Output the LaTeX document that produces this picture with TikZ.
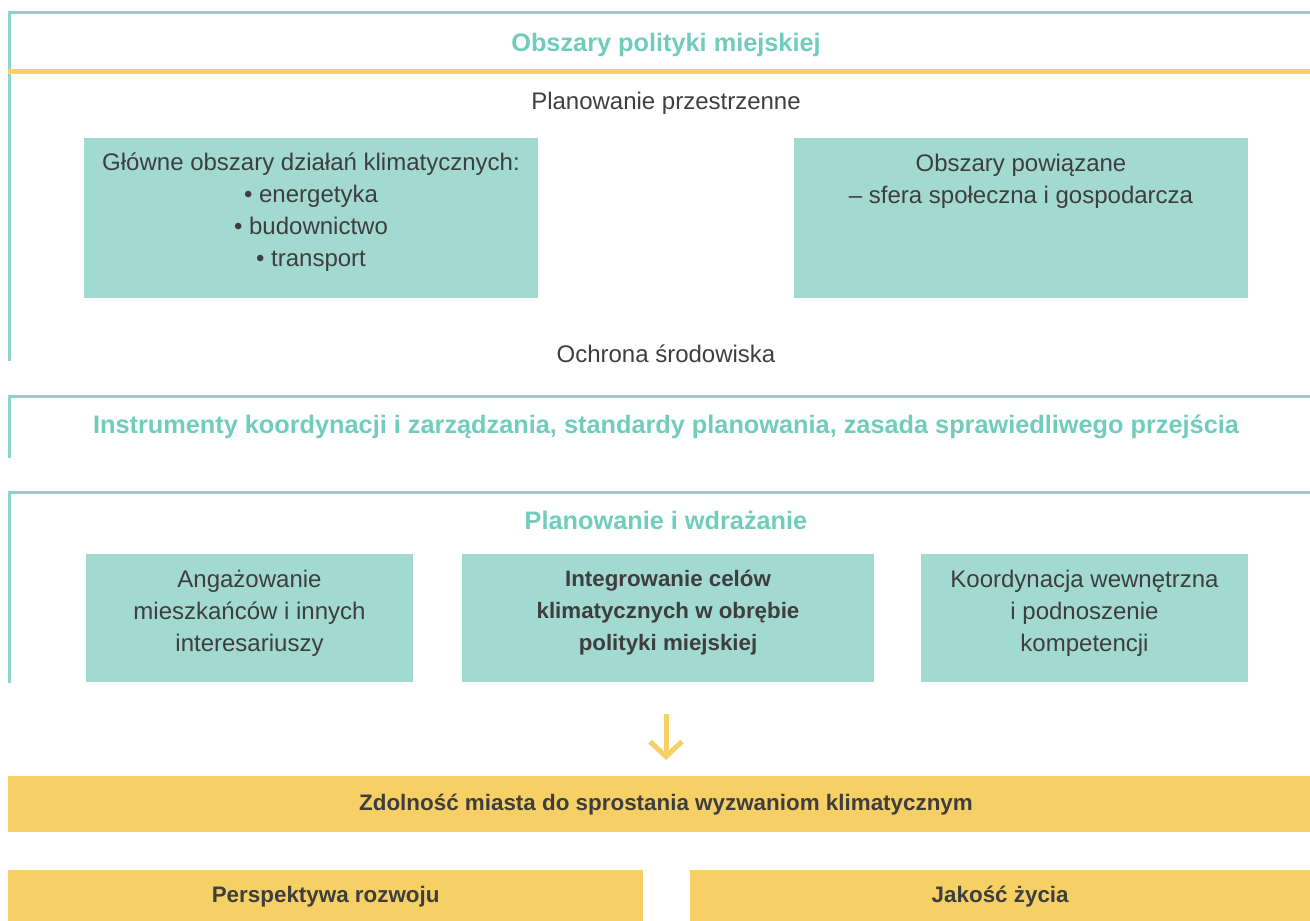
\documentclass[tikz,border=0pt]{standalone}
\usepackage{fontspec}
\setmainfont{Liberation Sans}
\usetikzlibrary{arrows.meta}
\definecolor{tline}{RGB}{140,213,204}
\definecolor{tfill}{RGB}{162,217,208}
\definecolor{ttext}{RGB}{112,204,188}
\definecolor{ylw}{RGB}{246,208,101}
\definecolor{dtext}{RGB}{62,62,62}
\tikzset{
  bracket/.style={draw=tline, line width=3pt},
  tbox/.style={fill=tfill, inner sep=0pt, anchor=north west},
  ybar/.style={fill=ylw, inner sep=0pt, anchor=north west},
  body/.style={text=dtext, font=\fontsize{24}{32}\selectfont, align=center, inner sep=0pt},
  ttl/.style={text=ttext, font=\bfseries\fontsize{25.3}{30}\selectfont, inner sep=0pt, anchor=base},
  ytext/.style={text=dtext, font=\bfseries\fontsize{22.4}{26}\selectfont, inner sep=0pt, anchor=base},
  arr/.style={draw=ylw, line width=5pt, -{Straight Barb[length=15pt,width=32pt]}}
}
\begin{document}
\begin{tikzpicture}[x=1pt,y=-1pt]
\useasboundingbox (0,0) rectangle (1310,921);
% bracket 1
\draw[bracket] (9,361) -- (9,12) -- (1310,12);
\draw[draw=ylw, line width=5pt] (8,71.5) -- (1310,71.5);
\node[ttl] (t1) at (666,51) {Obszary polityki miejskiej};
\node[body, anchor=base] (pp) at (666,109) {Planowanie przestrzenne};
\node[tbox, minimum width=454pt, minimum height=160pt] (b1) at (84,138) {};
\node[tbox, minimum width=454pt, minimum height=160pt] (b2) at (794,138) {};
\node[body] (b1t) at (311,212) {Główne obszary działań klimatycznych:\\• energetyka\\• budownictwo\\• transport};
\node[body] (b2t) at (1021,181) {Obszary powiązane\\– sfera społeczna i gospodarcza};
\node[body, anchor=base] (os) at (666,362) {Ochrona środowiska};
% bracket 2
\draw[bracket] (9,458) -- (9,396) -- (1310,396);
\node[ttl] (t2) at (666,433) {Instrumenty koordynacji i zarządzania, standardy planowania, zasada sprawiedliwego przejścia};
% bracket 3
\draw[bracket] (9,683) -- (9,492) -- (1310,492);
\node[ttl] (t3) at (666,529) {Planowanie i wdrażanie};
\node[tbox, minimum width=327pt, minimum height=128pt] (b3) at (86,554) {};
\node[tbox, minimum width=412pt, minimum height=128pt] (b4) at (462,554) {};
\node[tbox, minimum width=327pt, minimum height=128pt] (b5) at (921,554) {};
\node[body] (b3t) at (249.5,613) {Angażowanie\\mieszkańców i innych\\interesariuszy};
\node[body, font=\bfseries\fontsize{22.3}{32}\selectfont] (b4t) at (668,613) {Integrowanie celów\\klimatycznych w obrębie\\polityki miejskiej};
\node[body] (b5t) at (1084.5,613) {Koordynacja wewnętrzna\\i podnoszenie\\kompetencji};
% arrow and result bars
\node[ybar, minimum width=1302pt, minimum height=56pt] (zd) at (8,776) {};
\node[ytext] (zdt) at (666,810) {Zdolność miasta do sprostania wyzwaniom klimatycznym};
\coordinate (astart) at (666,714);
\draw[arr, shorten >=16pt] (astart) -- (astart |- zd.north);
\node[ybar, minimum width=635pt, minimum height=51pt] (pr) at (8,870) {};
\node[ybar, minimum width=620pt, minimum height=51pt] (jz) at (690,870) {};
\node[ytext] (prt) at (pr.center |- 0,902) {Perspektywa rozwoju};
\node[ytext] (jzt) at (jz.center |- 0,902) {Jakość życia};
\end{tikzpicture}
\end{document}
